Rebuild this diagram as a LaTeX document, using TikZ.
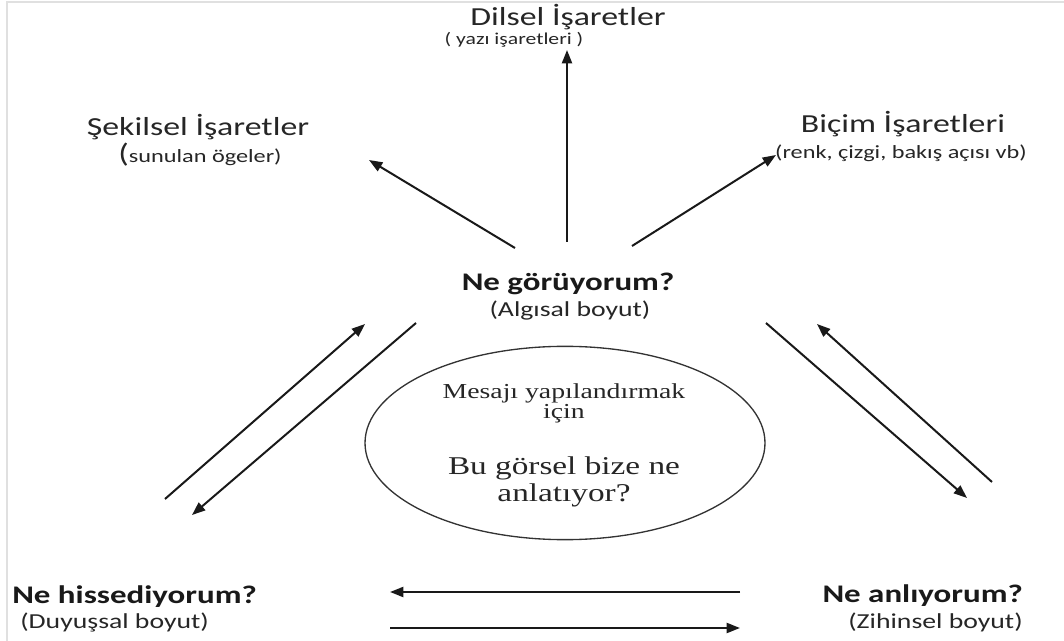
\documentclass[tikz,border=0pt]{standalone}
\usepackage{fontspec}
\setmainfont{Liberation Serif}[FakeStretch=1.3]
\newfontfamily\calfont{Carlito}[FakeStretch=1.3]
\usetikzlibrary{arrows.meta,shapes.geometric}

\tikzset{
  title/.style={inner sep=0pt, font=\calfont\fontsize{19.5}{23}\selectfont, text=black!85},
  head/.style={inner sep=0pt, font=\calfont\bfseries\fontsize{19}{23}\selectfont, text=black!90},
  sub/.style={inner sep=0pt, font=\calfont\fontsize{16}{19}\selectfont, text=black!85},
  small/.style={inner sep=0pt, font=\calfont\fontsize{14}{17}\selectfont, text=black!85},
  tiny/.style={inner sep=0pt, font=\calfont\fontsize{12.5}{15}\selectfont, text=black!85},
  serif/.style={inner sep=0pt, align=center, text=black!85},
  flow/.style={line width=1.5pt, black!90, -{Triangle[length=10pt,width=7.5pt]}}
}

\begin{document}
\begin{tikzpicture}[x=0.75pt,y=-0.75pt]
\useasboundingbox (0,0) rectangle (1064,641);
% faint frame lines along the top and left edges
\draw[black!12, line width=0.8pt] (7,641) -- (7,2) -- (1064,2);

% labels of the three kinds of signs
\node[title] (dil) at (568,17) {Dilsel İşaretler};
\node[tiny] (dilalt) at (514,40) {( yazı işaretleri )};
\node[title] (sek) at (198,127) {Şekilsel İşaretler};
\node[small] (sekalt) at (200,155) {{\fontsize{20}{20}\selectfont(}sunulan ögeler)};
\node[title] (bic) at (903,124) {Biçim İşaretleri};
\node[small] (bicalt) at (901,153) {(renk, çizgi, bakış açısı vb)};

% the three dimensions
\node[head] (gor) at (568,284) {Ne görüyorum?};
\node[sub] (goralt) at (570,311) {(Algısal boyut)};
\node[head, anchor=west] (his) at (12,597) {Ne hissediyorum?};
\node[sub, anchor=west] (hisalt) at (20,622) {(Duyuşsal boyut)};
\node[head, anchor=east] (anl) at (1023,596) {Ne anlıyorum?};
\node[sub, anchor=east] (anlalt) at (1023,622) {(Zihinsel boyut)};

% central question inside an ellipse
\coordinate (msgc) at (565,443);
\draw[black!80, line width=1pt] (msgc) ellipse [x radius=150pt, y radius=72.5pt];
\node[serif, font=\fontsize{16}{15}\selectfont] (msg1) at (564,403) {Mesajı yapılandırmak\\için};
\node[serif, font=\fontsize{19.2}{20.5}\selectfont] (msg2) at (564,482) {Bu görsel bize ne\\anlatıyor?};

% arrow end points
\coordinate (u0) at (567,242);  \coordinate (u1) at (567,50);
\coordinate (l0) at (515,248);  \coordinate (l1) at (369,160);
\coordinate (r0) at (632,246);  \coordinate (r1) at (776,155);
\coordinate (a0) at (165,499);  \coordinate (a1) at (365,324);
\coordinate (b0) at (416,323);  \coordinate (b1) at (192,515);
\coordinate (c0) at (766,323);  \coordinate (c1) at (967,498);
\coordinate (d0) at (992,482);  \coordinate (d1) at (817,324);
\coordinate (e0) at (740,592);  \coordinate (e1) at (390,592);
\coordinate (f0) at (390,628);  \coordinate (f1) at (740,628);

\draw[flow] (u0) -- (u1);
\draw[flow] (l0) -- (l1);
\draw[flow] (r0) -- (r1);
\draw[flow] (a0) -- (a1);
\draw[flow] (b0) -- (b1);
\draw[flow] (c0) -- (c1);
\draw[flow] (d0) -- (d1);
\draw[flow] (e0) -- (e1);
\draw[flow] (f0) -- (f1);
\end{tikzpicture}
\end{document}
